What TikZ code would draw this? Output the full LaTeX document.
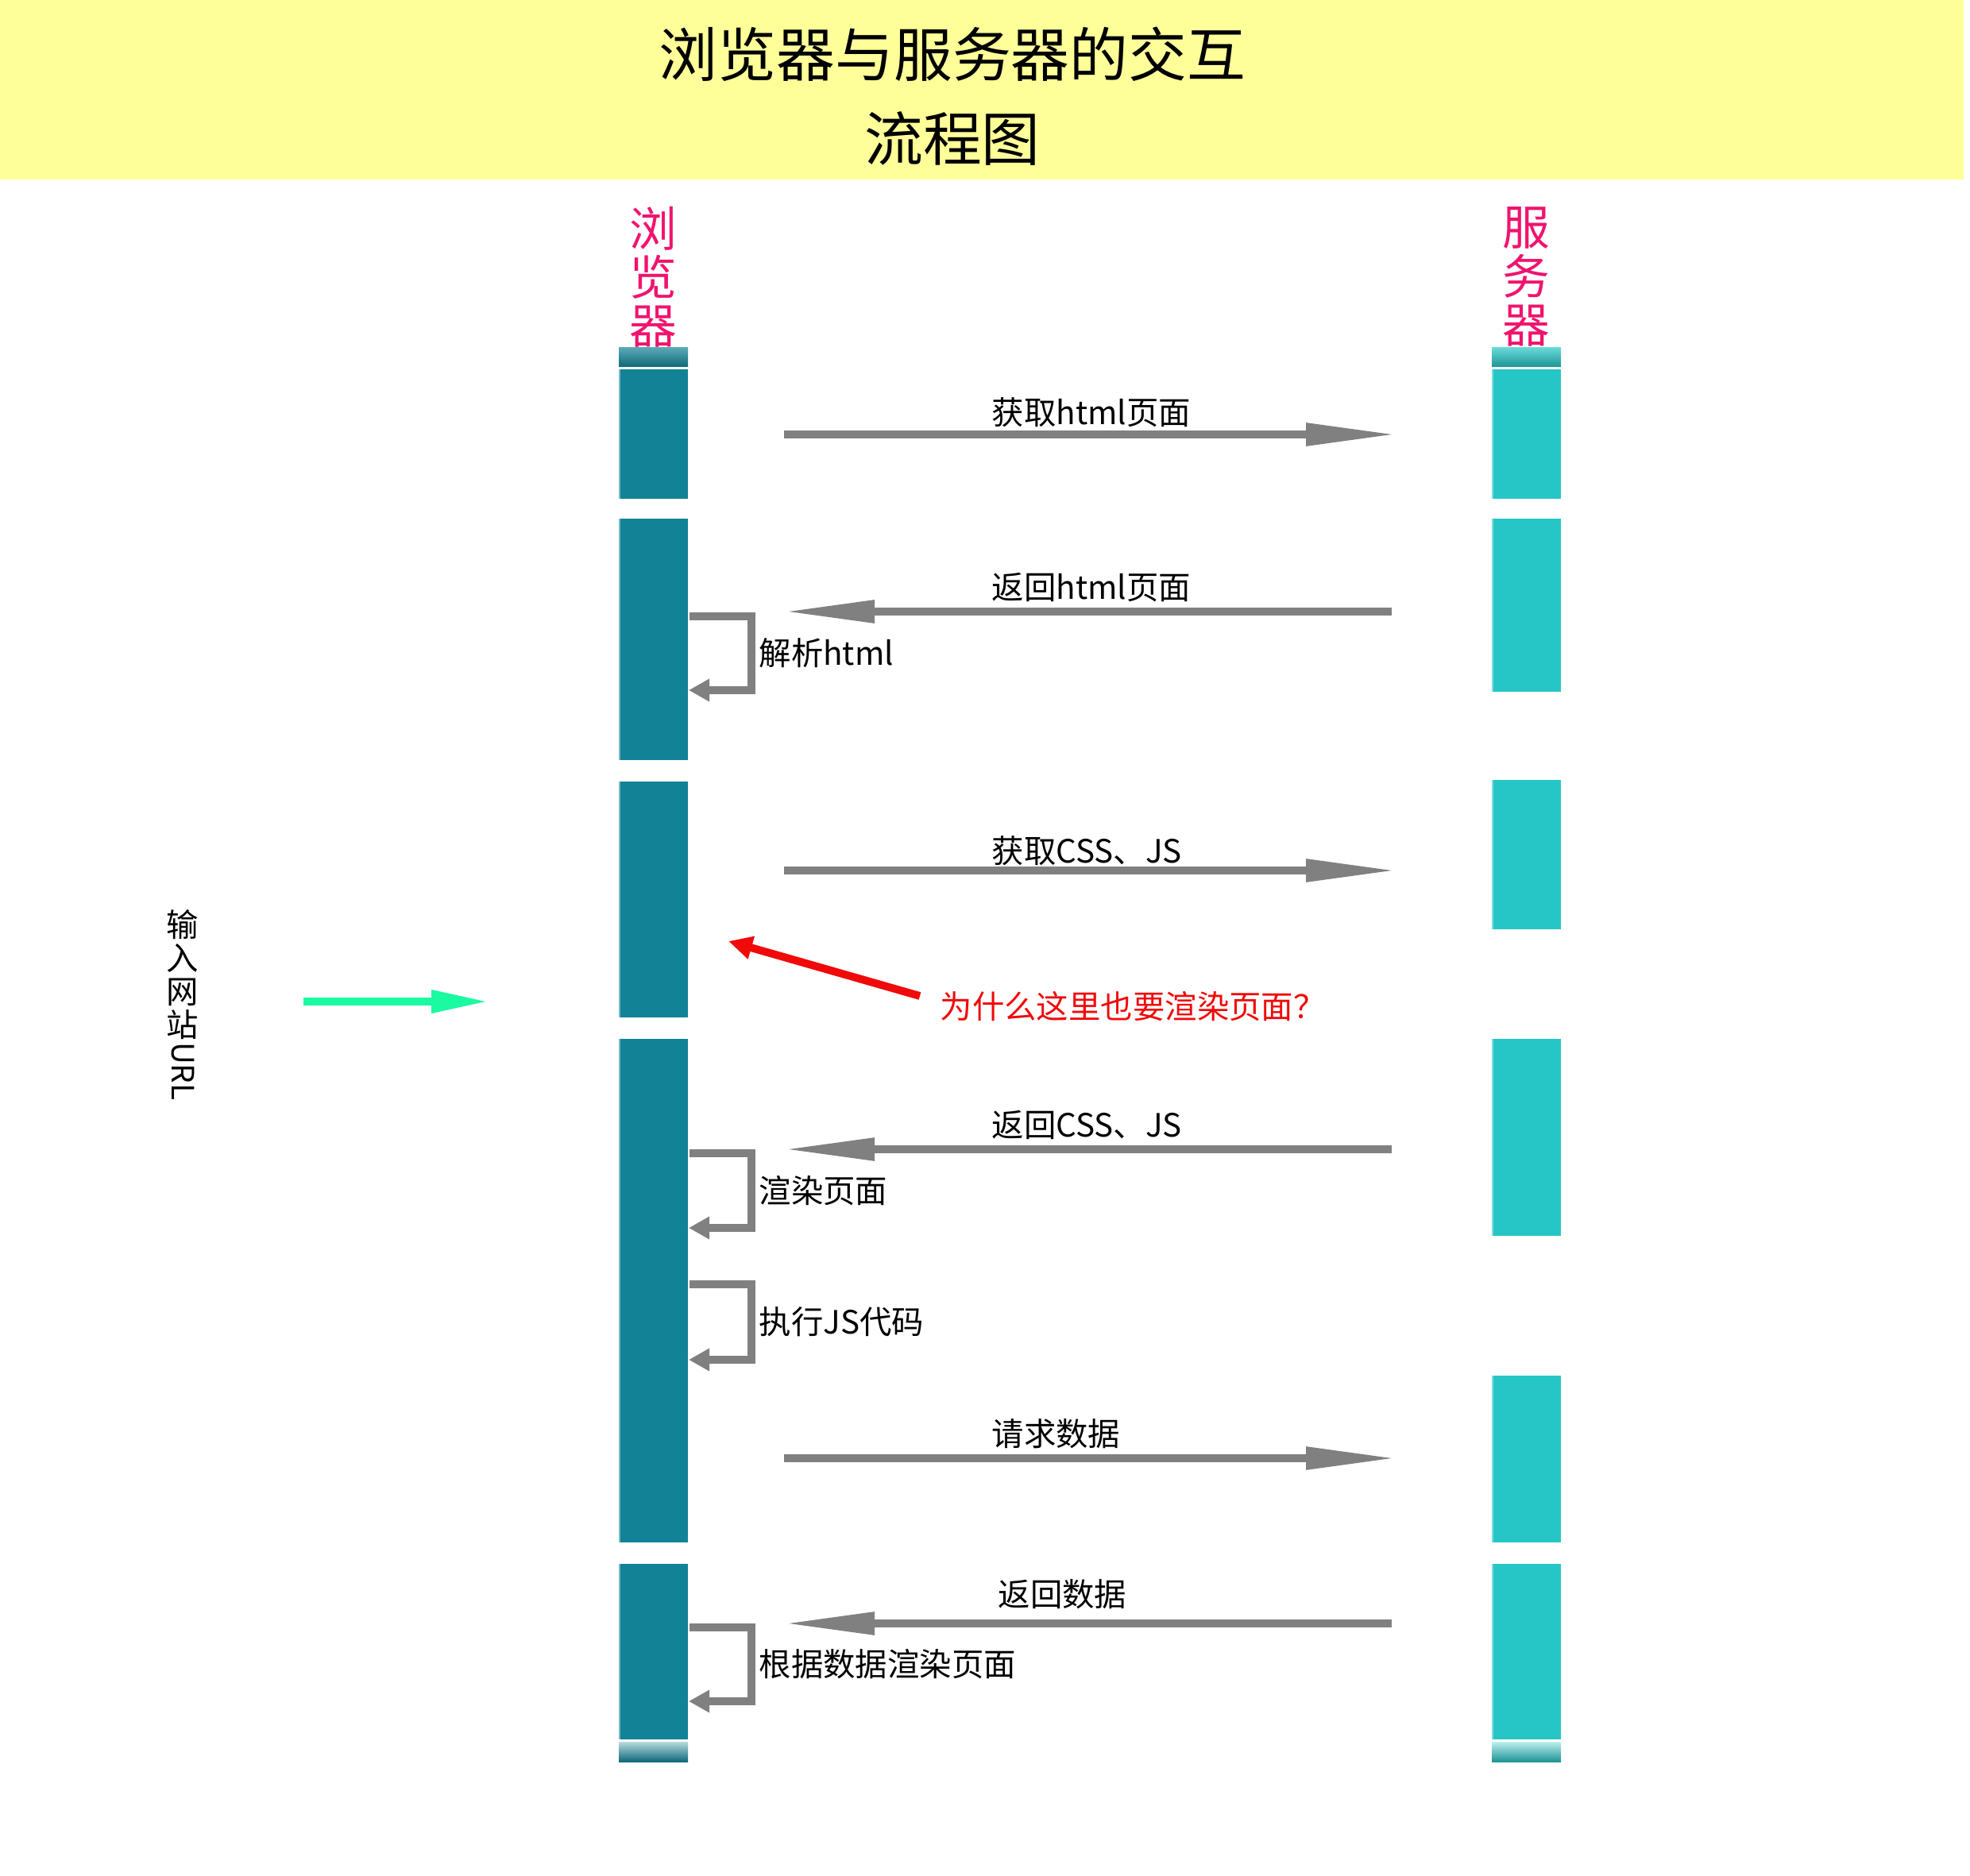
\documentclass[tikz,border=0pt]{standalone}
\usepackage{fontspec}
\setmainfont{Noto Sans CJK SC}
\usetikzlibrary{arrows.meta,positioning,calc}

\definecolor{bandyellow}{RGB}{255,255,153}
\definecolor{browserteal}{RGB}{18,130,150}
\definecolor{servercyan}{RGB}{38,198,198}
\definecolor{headpink}{RGB}{240,20,110}
\definecolor{msggray}{RGB}{128,128,128}
\definecolor{urlgreen}{RGB}{26,250,160}
\definecolor{notered}{RGB}{240,10,10}

\begin{document}
\begin{tikzpicture}[
  bseg/.style={fill=browserteal, minimum width=0.87cm, inner sep=0pt, outer sep=0pt, anchor=north,
    path picture={\draw[white!45!browserteal, line width=1pt]
      (path picture bounding box.north west) -- (path picture bounding box.south west);}},
  sseg/.style={fill=servercyan, minimum width=0.87cm, inner sep=0pt, outer sep=0pt, anchor=north,
    path picture={\draw[white!40!servercyan, line width=1pt]
      (path picture bounding box.north west) -- (path picture bounding box.south west);}},
  head/.style={text=headpink, font=\fontsize{17pt}{17.4pt}\selectfont, align=center, inner sep=0pt},
  msg/.style={draw=msggray, line width=2.6pt, -{Triangle[length=11.3mm, width=2.7mm]}},
  selfloop/.style={draw=msggray, line width=2.6pt, -{Triangle[length=2.6mm, width=2.7mm]}},
  msglabel/.style={anchor=west, inner sep=0pt, font=\fontsize{11.5pt}{12pt}\selectfont},
  looplabel/.style={anchor=west, inner sep=0.5mm, font=\fontsize{11.5pt}{12pt}\selectfont},
]
\useasboundingbox (0,0) rectangle (24.8,-23.62);

% Title band
\fill[bandyellow] (0,0) rectangle (24.72,-2.26);
\node[align=center, font=\fontsize{21pt}{30pt}\selectfont] (title) at (11.99,-1.21)
  {浏览器与服务器的交互\\流程图};

% Lane heads
\node[head] (hbrowser) at (8.225,-3.485) {浏\\览\\器};
\node[head] (hserver)  at (19.215,-3.485) {服\\务\\器};

% Browser lane
\node[bseg, minimum height=1.90cm] (B1) at (8.225,-4.38) {};
\node[bseg, minimum height=3.04cm, below=0.25cm of B1] (B2) {};
\node[bseg, minimum height=2.97cm, below=0.27cm of B2] (B3) {};
\node[bseg, minimum height=6.34cm, below=0.27cm of B3] (B4) {};
\node[bseg, minimum height=2.49cm, below=0.27cm of B4] (B5) {};

% Server lane
\node[sseg, minimum height=1.90cm] (S1) at (19.215,-4.38) {};
\node[sseg, minimum height=2.18cm, below=0.25cm of S1] (S2) {};
\node[sseg, minimum height=1.88cm] (S3) at (19.215,-9.82) {};
\node[sseg, minimum height=2.48cm] (S4) at (19.215,-13.08) {};
\node[sseg, minimum height=2.10cm] (S5) at (19.215,-17.32) {};
\node[sseg, minimum height=2.49cm, below=0.27cm of S5] (S6) {};

% End caps
\shade[top color=browserteal!70!white, middle color=browserteal!60!cyan, bottom color=browserteal!80!black]
  (B1.north west) rectangle ($(B1.north east)+(0,-0.24)$);
\fill[white!92!gray] ($(B1.north west)+(0,-0.24)$) rectangle ($(B1.north east)+(0,-0.27)$);
\shade[top color=servercyan!70!white, middle color=servercyan, bottom color=servercyan!75!black]
  (S1.north west) rectangle ($(S1.north east)+(0,-0.24)$);
\fill[white!92!gray] ($(S1.north west)+(0,-0.24)$) rectangle ($(S1.north east)+(0,-0.27)$);
\shade[top color=browserteal!30!white, middle color=browserteal!60!cyan, bottom color=browserteal!80!black]
  ($(B5.south west)+(0,0.25)$) rectangle (B5.south east);
\fill[white] ($(B5.south west)+(0,0.25)$) rectangle ($(B5.south east)+(0,0.28)$);
\shade[top color=servercyan!30!white, middle color=servercyan, bottom color=servercyan!75!black]
  ($(S6.south west)+(0,0.25)$) rectangle (S6.south east);
\fill[white] ($(S6.south west)+(0,0.25)$) rectangle ($(S6.south east)+(0,0.28)$);

% Message arrows
\coordinate (a1s) at (9.87,-5.47);   \coordinate (a1e) at (17.57,-5.47);
\coordinate (a2s) at (17.52,-7.70);  \coordinate (a2e) at (9.88,-7.70);
\coordinate (a3s) at (9.87,-10.96);  \coordinate (a3e) at (17.57,-10.96);
\coordinate (a4s) at (17.52,-14.47); \coordinate (a4e) at (9.88,-14.47);
\coordinate (a5s) at (9.87,-18.36);  \coordinate (a5e) at (17.57,-18.36);
\coordinate (a6s) at (17.52,-20.44); \coordinate (a6e) at (9.88,-20.44);
\draw[msg] (a1s) -- (a1e);
\draw[msg] (a2s) -- (a2e);
\draw[msg] (a3s) -- (a3e);
\draw[msg] (a4s) -- (a4e);
\draw[msg] (a5s) -- (a5e);
\draw[msg] (a6s) -- (a6e);
\node[msglabel] (t1) at (12.48,-5.19)  {获取html页面};
\node[msglabel] (t2) at (12.48,-7.40)  {返回html页面};
\node[msglabel] (t3) at (12.48,-10.71) {获取CSS、JS};
\node[msglabel] (t4) at (12.48,-14.16) {返回CSS、JS};
\node[msglabel] (t5) at (12.48,-18.05) {请求数据};
\node[msglabel] (t6) at (12.56,-20.07) {返回数据};

% Self loops on the browser lane
\coordinate (c1a) at (8.68,-7.76);  \coordinate (c1b) at (8.67,-8.69);
\coordinate (c2a) at (8.68,-14.52); \coordinate (c2b) at (8.67,-15.46);
\coordinate (c3a) at (8.68,-16.17); \coordinate (c3b) at (8.67,-17.12);
\coordinate (c4a) at (8.68,-20.49); \coordinate (c4b) at (8.67,-21.42);
\draw[selfloop] (c1a) -- ++(0.78,0) |- node[looplabel, pos=0.25] (p1) {解析html} (c1b);
\draw[selfloop] (c2a) -- ++(0.78,0) |- node[looplabel, pos=0.25] (p2) {渲染页面} (c2b);
\draw[selfloop] (c3a) -- ++(0.78,0) |- node[looplabel, pos=0.25] (p3) {执行JS代码} (c3b);
\draw[selfloop] (c4a) -- ++(0.78,0) |- node[looplabel, pos=0.25] (p4) {根据数据渲染页面} (c4b);

% Question note
\node[msglabel, text=notered] (why) at (11.83,-12.67) {为什么这里也要渲染页面？};
\coordinate (q1) at (11.58,-12.54);
\coordinate (q2) at (9.17,-11.85);
\draw[notered, line width=2.8pt, -{Triangle[length=3mm, width=2.8mm]}] (q1) -- (q2);

% URL input
\node[align=center, inner sep=0pt, font=\fontsize{11.5pt}{12pt}\selectfont] (urlcjk) at (2.30,-12.27)
  {输\\入\\网\\站};
\node[rotate=-90, anchor=west, inner sep=0.5pt, font=\fontsize{11pt}{12pt}\selectfont] (urllat) at (urlcjk.south) {URL};
\coordinate (g1) at (3.82,-12.61);
\coordinate (g2) at (6.15,-12.61);
\draw[urlgreen, line width=2.8pt, -{Triangle[length=7.2mm, width=2.7mm]}] (g1) -- (g2);

\end{tikzpicture}
\end{document}
